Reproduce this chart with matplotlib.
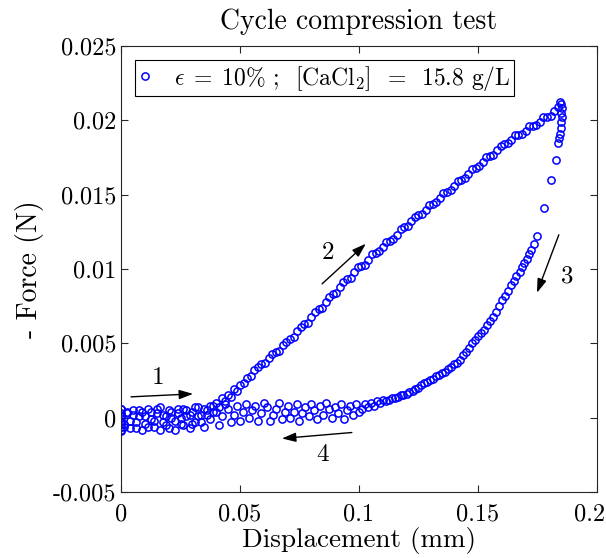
import matplotlib
matplotlib.use('Agg')
import matplotlib.pyplot as plt
import matplotlib.transforms as mtransforms
from matplotlib.ticker import FuncFormatter

plt.rcParams['font.family'] = 'serif'
plt.rcParams['font.serif'] = ['cmr10']
plt.rcParams['mathtext.fontset'] = 'cm'
plt.rcParams['axes.unicode_minus'] = False
plt.rcParams['axes.formatter.use_mathtext'] = True

# loading branch: baseline then ramp up to the peak
load_x = [0.0000, 0.0000, 0.0000, 0.0012, 0.0025, 0.0038, 0.0050, 0.0062, 0.0075, 0.0088,
          0.0100, 0.0112, 0.0125, 0.0138, 0.0150, 0.0162, 0.0175, 0.0188, 0.0200, 0.0212,
          0.0225, 0.0238, 0.0250, 0.0262, 0.0275, 0.0288, 0.0300, 0.0312, 0.0325, 0.0338,
          0.0350, 0.0362, 0.0375, 0.0388, 0.0400, 0.0412, 0.0425, 0.0438, 0.0450, 0.0462,
          0.0475, 0.0488,
          0.0500, 0.0515, 0.0530, 0.0545, 0.0560, 0.0575, 0.0590, 0.0605, 0.0620, 0.0635,
          0.0650, 0.0665, 0.0680, 0.0695, 0.0710, 0.0725, 0.0740, 0.0755, 0.0770, 0.0785,
          0.0800, 0.0815, 0.0830, 0.0845, 0.0860, 0.0875, 0.0890, 0.0905, 0.0920, 0.0935,
          0.0950, 0.0965, 0.0980, 0.0995, 0.1010, 0.1025, 0.1040, 0.1055, 0.1070, 0.1085,
          0.1100, 0.1115, 0.1130, 0.1145, 0.1160, 0.1175, 0.1190, 0.1205, 0.1220, 0.1235,
          0.1250, 0.1265, 0.1280, 0.1295, 0.1310, 0.1325, 0.1340, 0.1355, 0.1370, 0.1385,
          0.1400, 0.1415, 0.1430, 0.1445, 0.1460, 0.1475, 0.1490, 0.1505, 0.1520, 0.1535,
          0.1550, 0.1565, 0.1580, 0.1595, 0.1610, 0.1625, 0.1640, 0.1655, 0.1670, 0.1685,
          0.1700, 0.1715, 0.1730, 0.1745, 0.1760, 0.1775, 0.1790, 0.1805, 0.1820, 0.1835,
          0.1845]
load_y = [0.0006, -0.0004, 0.0002, -0.0006, 0.0003, -0.0002, 0.0005, -0.0007, 0.0001, 0.0004,
          -0.0004, 0.0006, -0.0001, -0.0006, 0.0003, 0.0007, -0.0003, 0.0001, -0.0007, 0.0004,
          -0.0002, 0.0006, 0.0000, -0.0005, 0.0005, 0.0002, -0.0004, 0.0007, 0.0001, -0.0003,
          0.0006, 0.0002, 0.0008, 0.0004, 0.0010, 0.0007, 0.0013, 0.0011, 0.0015, 0.0014,
          0.0019, 0.0018,
          0.0022, 0.0023, 0.0027, 0.0028, 0.0032, 0.0034, 0.0036, 0.0037, 0.0040, 0.0043,
          0.0044, 0.0045, 0.0049, 0.0051, 0.0053, 0.0054, 0.0058, 0.0061, 0.0063, 0.0064,
          0.0068, 0.0071, 0.0073, 0.0074, 0.0078, 0.0081, 0.0083, 0.0084, 0.0088, 0.0091,
          0.0093, 0.0094, 0.0098, 0.0101, 0.0102, 0.0103, 0.0106, 0.0110, 0.0111, 0.0112,
          0.0115, 0.0118, 0.0119, 0.0120, 0.0123, 0.0127, 0.0128, 0.0129, 0.0132, 0.0135,
          0.0136, 0.0137, 0.0140, 0.0143, 0.0144, 0.0145, 0.0148, 0.0151, 0.0152, 0.0153,
          0.0156, 0.0159, 0.0160, 0.0161, 0.0164, 0.0167, 0.0168, 0.0169, 0.0172, 0.0175,
          0.0176, 0.0177, 0.0180, 0.0183, 0.0184, 0.0185, 0.0187, 0.0190, 0.0190, 0.0191,
          0.0193, 0.0196, 0.0196, 0.0197, 0.0199, 0.0202, 0.0202, 0.0203, 0.0206, 0.0209,
          0.0212]

# unloading branch: steep drop from the peak, then back along the baseline
unload_x = [0.1850, 0.1852, 0.1851, 0.1852, 0.1850, 0.1848, 0.1846, 0.1842, 0.1838, 0.1826,
            0.1805, 0.1776, 0.1748, 0.1737, 0.1725, 0.1715, 0.1705, 0.1695, 0.1685, 0.1675,
            0.1662, 0.1650, 0.1638, 0.1625, 0.1612, 0.1600, 0.1588, 0.1575, 0.1563, 0.1550,
            0.1538, 0.1525, 0.1512, 0.1500, 0.1487, 0.1475, 0.1462, 0.1450, 0.1437, 0.1425,
            0.1412, 0.1400, 0.1387, 0.1375, 0.1362, 0.1350, 0.1337, 0.1325, 0.1312, 0.1300,
            0.1287, 0.1275, 0.1262, 0.1250, 0.1237, 0.1225, 0.1212, 0.1200, 0.1187, 0.1175,
            0.1162, 0.1150, 0.1137, 0.1125, 0.1112, 0.1100, 0.1087, 0.1075, 0.1062, 0.1050,
            0.1037, 0.1025, 0.1012,
            0.1000, 0.0988, 0.0975, 0.0962, 0.0950, 0.0938, 0.0925, 0.0912, 0.0900, 0.0888,
            0.0875, 0.0862, 0.0850, 0.0838, 0.0825, 0.0812, 0.0800, 0.0788, 0.0775, 0.0762,
            0.0750, 0.0738, 0.0725, 0.0712, 0.0700, 0.0688, 0.0675, 0.0662, 0.0650, 0.0638,
            0.0625, 0.0612, 0.0600, 0.0588, 0.0575, 0.0562, 0.0550, 0.0538, 0.0525, 0.0512,
            0.0500, 0.0488, 0.0475, 0.0462, 0.0450, 0.0438, 0.0425, 0.0412, 0.0400, 0.0388,
            0.0375, 0.0362, 0.0350, 0.0338, 0.0325, 0.0312, 0.0300, 0.0288, 0.0275, 0.0262,
            0.0250, 0.0238, 0.0225, 0.0212, 0.0200, 0.0188, 0.0175, 0.0162, 0.0150, 0.0138,
            0.0125, 0.0112, 0.0100, 0.0088, 0.0075, 0.0062, 0.0050, 0.0038, 0.0025, 0.0012,
            0.0000, 0.0000, 0.0000, 0.0000, 0.0000, 0.0000, 0.0000]
unload_y = [0.0211, 0.0208, 0.0205, 0.0202, 0.0199, 0.0195, 0.0191, 0.0188, 0.0185, 0.0173,
            0.0160, 0.0141, 0.0122, 0.0117, 0.0113, 0.0110, 0.0107, 0.0104, 0.0101, 0.0098,
            0.0095, 0.0092, 0.0089, 0.0085, 0.0082, 0.0079, 0.0075, 0.0071, 0.0068, 0.0065,
            0.0062, 0.0059, 0.0057, 0.0055, 0.0052, 0.0050, 0.0047, 0.0044, 0.0042, 0.0039,
            0.0037, 0.0036, 0.0034, 0.0033, 0.0031, 0.0030, 0.0029, 0.0028, 0.0026, 0.0025,
            0.0024, 0.0023, 0.0022, 0.0020, 0.0019, 0.0018, 0.0017, 0.0016, 0.0015, 0.0015,
            0.0014, 0.0013, 0.0013, 0.0012, 0.0011, 0.0012, 0.0010, 0.0011, 0.0008, 0.0010,
            0.0007, 0.0009, 0.0006,
            0.0004, 0.0009, 0.0002, 0.0008, 0.0005, -0.0001, 0.0009, 0.0003, 0.0007, 0.0000,
            0.0006, 0.0010, 0.0002, 0.0008, -0.0001, 0.0005, 0.0009, 0.0001, 0.0007, 0.0003,
            -0.0002, 0.0009, 0.0004, 0.0000, 0.0008, 0.0004, -0.0001, 0.0010, 0.0006, 0.0002,
            -0.0002, 0.0007, 0.0010, 0.0003, -0.0002, 0.0008, 0.0005, 0.0000, 0.0009, 0.0004,
            -0.0002, 0.0008, 0.0002, -0.0003, 0.0006, 0.0009, 0.0001, -0.0005, 0.0004, 0.0008,
            -0.0001, 0.0005, -0.0006, 0.0002, 0.0007, -0.0003, 0.0004, -0.0007, 0.0001, 0.0006,
            -0.0004, 0.0003, -0.0008, 0.0000, 0.0005, -0.0005, 0.0002, -0.0008, 0.0006, -0.0002,
            0.0004, -0.0006, 0.0001, -0.0008, 0.0005, -0.0003, 0.0002, -0.0007, 0.0004, -0.0004,
            -0.0009, -0.0006, -0.0003, 0.0000, 0.0003, 0.0006, -0.0008]

x_ticks = [0, 0.05, 0.1, 0.15, 0.2]
y_ticks = [-0.005, 0, 0.005, 0.01, 0.015, 0.02, 0.025]

fig = plt.figure(figsize=(6.06, 5.58), dpi=100)
ax = fig.add_axes([0.1997, 0.1183, 0.7853, 0.7993])

ax.plot(load_x + unload_x, load_y + unload_y, 'o', color='b', mfc='none',
        ms=5.2, mew=1.1, label=r'$\epsilon\;=\;10\%$ ;  [CaCl$_2$]  =  15.8 g/L')

arrow = dict(arrowstyle='-|>,head_length=0.6,head_width=0.2', color='k', lw=1.0,
             mutation_scale=14, shrinkA=0, shrinkB=0)
ax.annotate('', xy=(0.0303, 0.0016), xytext=(0.0042, 0.0014), arrowprops=arrow)
ax.annotate('', xy=(0.1029, 0.0117), xytext=(0.0845, 0.0090), arrowprops=arrow)
ax.annotate('', xy=(0.1748, 0.0084), xytext=(0.1840, 0.0123), arrowprops=arrow)
ax.annotate('', xy=(0.0676, -0.0014), xytext=(0.0970, -0.0010), arrowprops=arrow)
ax.text(0.0155, 0.0027, '1', fontsize=18, ha='center', va='center')
ax.text(0.0870, 0.0111, '2', fontsize=18, ha='center', va='center')
ax.text(0.1874, 0.0095, '3', fontsize=18, ha='center', va='center')
ax.text(0.0845, -0.0025, '4', fontsize=18, ha='center', va='center')

ax.set_xlim(0, 0.2)
ax.set_ylim(-0.005, 0.025)
ax.set_xticks(x_ticks)
ax.set_yticks(y_ticks)
fmt = FuncFormatter(lambda v, p: '%g' % v)
ax.xaxis.set_major_formatter(fmt)
ax.yaxis.set_major_formatter(fmt)
ax.tick_params(direction='in', top=True, right=True, length=5, width=0.8,
               labelsize=17.5, colors='#262626', labelcolor='k')
ax.tick_params(axis='x', pad=8)
for s in ax.spines.values():
    s.set_color('#262626')
    s.set_linewidth(0.8)

# keep the last x tick label inside the figure
last = ax.get_xticklabels()[-1]
last.set_transform(last.get_transform() +
                   mtransforms.ScaledTranslation(-5 / 72, 0, fig.dpi_scale_trans))

ax.set_xlabel('Displacement (mm)', fontsize=19.5, labelpad=1)
ax.set_ylabel('- Force (N)', fontsize=20, labelpad=6)
ax.set_title('Cycle compression test', fontsize=20, pad=12)

leg = ax.legend(loc='upper left', fontsize=17, handlelength=0.5, handletextpad=1.0,
                borderpad=0.15, borderaxespad=0.6, fancybox=False, framealpha=1)
leg.get_frame().set_edgecolor('k')
leg.get_frame().set_linewidth(0.8)

fig.savefig('out.png', dpi=100)
